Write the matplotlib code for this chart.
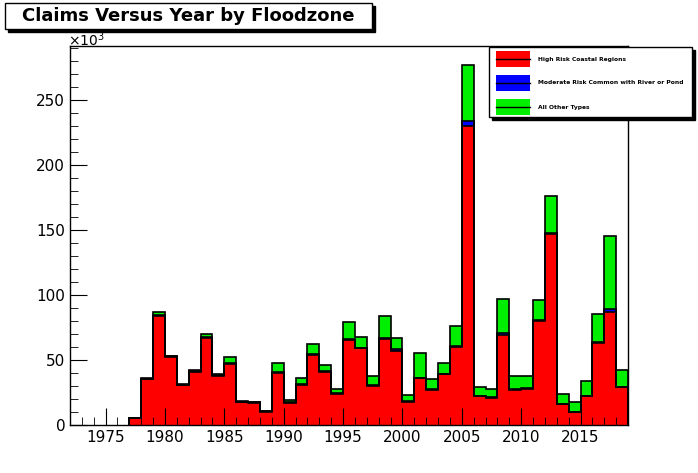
import numpy as np
import matplotlib.pyplot as plt
from matplotlib.patches import Rectangle
from matplotlib.ticker import MultipleLocator

years = list(range(1977, 2019))
# values in thousands of claims
high_risk = [5, 35, 84, 52, 31, 41, 67, 38, 47, 18, 17, 10, 40, 17, 31, 54, 41, 24, 65, 59, 30,
             66, 57, 18, 36, 27, 39, 60, 230, 22, 21, 69, 27, 28, 80, 147, 16, 10, 22, 63, 87, 29]
moderate = [0, 0.6, 0.6, 0.8, 0.3, 0.4, 0.5, 0.8, 0.5, 0.3, 0.8, 0.4, 0.5, 0.4, 0.4, 0.8, 0.5, 0.3, 0.8, 0.6, 0.4,
            0.8, 1.8, 0.4, 0.5, 0.4, 0.5, 0.6, 3.5, 0.4, 0.4, 2.0, 0.5, 0.4, 0.8, 1.0, 0.4, 0.3, 0.4, 0.8, 2.0, 0.6]
totals = [5, 36, 87, 53, 31, 42, 70, 39, 52, 18, 18, 11, 48, 19, 36, 62, 46, 28, 79, 68, 38,
          84, 67, 23, 55, 35, 48, 76, 277, 29, 28, 97, 38, 38, 96, 176, 24, 18, 34, 85, 145, 42]

edges = np.arange(1977, 2020)
h = np.array(high_risk, float)
m = h + np.array(moderate)
t = np.array(totals, float)

fig = plt.figure(figsize=(6.98, 4.73), dpi=100)
ax = fig.add_axes([70/698, 48/473, 558/698, 379/473])

for top, base, col in [(t, m, '#00ee00'), (m, h, '#0000ff'), (h, 0, '#ff0000')]:
    ax.stairs(top, edges, baseline=base, fill=True, color=col, lw=0)
for lvl in (h, m, t):
    ax.stairs(lvl, edges, baseline=0, color='black', lw=1.2)

ax.set_xlim(1972, 2019)
ax.set_ylim(0, 291.5)
for s in ax.spines.values():
    s.set_linewidth(1)
    s.set_zorder(5)
ax.xaxis.set_major_locator(MultipleLocator(5))
ax.xaxis.set_minor_locator(MultipleLocator(1))
ax.yaxis.set_major_locator(MultipleLocator(50))
ax.yaxis.set_minor_locator(MultipleLocator(10))
ax.tick_params(which='both', direction='in', top=False, right=False, labelsize=11)
ax.tick_params(which='major', length=12)
ax.tick_params(which='minor', length=6)
ax.set_xticks(range(1975, 2019, 5))
fig.text(68/698, 1 - 40/473, r'$\times10^{3}$', fontsize=10, ha='left', va='center')


def box(x, y, w, hh, shadow=3):
    fig.add_artist(Rectangle(((x + shadow)/698, 1 - (y + hh + shadow)/473), w/698, hh/473,
                             transform=fig.transFigure, facecolor='black', edgecolor='black', zorder=10))
    fig.add_artist(Rectangle((x/698, 1 - (y + hh)/473), w/698, hh/473,
                             transform=fig.transFigure, facecolor='white', edgecolor='black', lw=1, zorder=11))


# title box
box(5, 3, 367, 26)
fig.text(188/698, 1 - 16/473, 'Claims Versus Year by Floodzone', fontsize=13, weight='bold',
         ha='center', va='center', zorder=12)

# legend box
box(489, 47, 203, 70, shadow=3)
labels = ['High Risk Coastal Regions', 'Moderate Risk Common with River or Pond', 'All Other Types']
colors = ['#ff0000', '#0000ff', '#00ee00']
for i, (lab, col) in enumerate(zip(labels, colors)):
    yc = 59 + i * 24
    fig.add_artist(Rectangle((496/698, 1 - (yc + 8)/473), 34/698, 16/473,
                             transform=fig.transFigure, facecolor=col, edgecolor='none', zorder=12))
    fig.add_artist(plt.Line2D([496/698, 530/698], [1 - yc/473, 1 - yc/473],
                              transform=fig.transFigure, color='black', lw=1, zorder=13))
    fig.text(538/698, 1 - yc/473, lab, fontsize=4.3, weight='bold', va='center', zorder=13)

fig.savefig('out.png', dpi=100)
